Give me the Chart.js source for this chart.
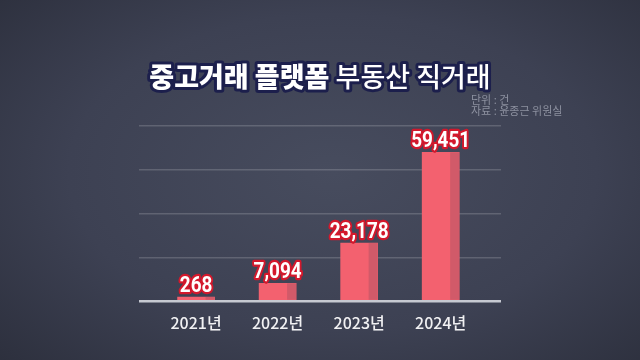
<!DOCTYPE html>
<html lang="ko">
<head>
    <meta charset="UTF-8">
    <title>중고거래 플랫폼 부동산 직거래</title>
    <script src="https://cdn.jsdelivr.net/npm/chart.js"></script>
    <style>
        html, body { margin: 0; padding: 0; }
        body {
            width: 640px; height: 360px; overflow: hidden;
            background: radial-gradient(ellipse 75% 80% at 52% 48%, #474c5e 0%, #3d4153 55%, #2b2e3b 100%);
        }
        canvas { display: block; }
    </style>
</head>
<body>
    <canvas id="chart" width="640" height="360"></canvas>

    <script>
        const years = ['2021년', '2022년', '2023년', '2024년'];
        const counts = [268, 7094, 23178, 59451];
        const gridValues = [0, 17500, 35000, 52500, 70000];

        const titleBold = '중고거래 플랫폼';
        const titleRegular = '부동산 직거래';
        const unitText = '단위 : 건';
        const sourceText = '자료 : 윤종근 위원실';

        const KR = '"Noto Sans CJK KR", "Noto Sans", sans-serif';

        // title, source notes and the value labels over the bars
        const decorations = {
            id: 'decorations',
            afterDatasetsDraw(chart) {
                const ctx = chart.ctx;
                const meta = chart.getDatasetMeta(0);

                // darker right face on each bar
                meta.data.forEach(bar => {
                    const p = bar.getProps(['x', 'y', 'base', 'width'], true);
                    ctx.fillStyle = '#d15a69';
                    ctx.fillRect(p.x + p.width / 2 - 9, p.y, 9, p.base - p.y);
                });

                // value labels
                meta.data.forEach((bar, i) => {
                    const p = bar.getProps(['x', 'y'], true);
                    const txt = counts[i].toLocaleString('en-US');
                    ctx.save();
                    ctx.translate(p.x, p.y - 5);
                    ctx.scale(0.86, 1);
                    ctx.font = 'bold 22px Roboto, "Liberation Sans", sans-serif';
                    ctx.textAlign = 'center';
                    ctx.textBaseline = 'alphabetic';
                    ctx.lineJoin = 'round';
                    ctx.lineWidth = 4.5;
                    ctx.strokeStyle = '#d3182c';
                    ctx.strokeText(txt, 0, 0);
                    ctx.fillStyle = '#ffffff';
                    ctx.fillText(txt, 0, 0);
                    ctx.restore();
                });

                // title
                ctx.save();
                ctx.textBaseline = 'middle';
                ctx.textAlign = 'left';
                ctx.lineJoin = 'round';
                const boldFont = '900 27px ' + KR;
                const regFont = '500 27px ' + KR;
                ctx.font = boldFont;
                const wb = ctx.measureText(titleBold + ' ').width;
                ctx.font = regFont;
                const wr = ctx.measureText(titleRegular).width;
                const x = 320 - (wb + wr) / 2;
                const y = 77;
                [[titleBold, boldFont, 0], [titleRegular, regFont, wb]].forEach(([t, f, dx]) => {
                    ctx.font = f;
                    ctx.lineWidth = 6;
                    ctx.strokeStyle = '#1c1f4c';
                    ctx.strokeText(t, x + dx, y);
                    ctx.fillStyle = '#ffffff';
                    ctx.fillText(t, x + dx, y);
                });

                // unit / source
                ctx.font = '11px ' + KR;
                ctx.fillStyle = '#8d91a0';
                ctx.fillText(unitText, 471, 100);
                ctx.fillText(sourceText, 471, 111);
                ctx.restore();
            }
        };

        new Chart(document.getElementById('chart'), {
            type: 'bar',
            data: {
                datasets: [{
                    data: counts.map((v, i) => ({ x: i, y: v })),
                    backgroundColor: '#f3616f',
                    borderWidth: 0,
                    barThickness: 37,
                    minBarLength: 4
                }]
            },
            options: {
                responsive: false,
                animation: false,
                layout: { padding: { left: 139, right: 139, top: 126, bottom: 0 } },
                plugins: { legend: { display: false }, tooltip: { enabled: false } },
                scales: {
                    x: {
                        type: 'linear',
                        offset: false,
                        min: -0.7,
                        max: 3.74,
                        grid: { display: false },
                        border: { display: false },
                        afterBuildTicks: s => { s.ticks = years.map((_, i) => ({ value: i })); },
                        afterFit: s => { s.height = 59; },
                        ticks: {
                            callback: v => years[v] ?? '',
                            color: '#f1f1f3',
                            font: { family: KR, size: 16, weight: '500' },
                            padding: 4,
                            maxRotation: 0,
                            autoSkip: false
                        }
                    },
                    y: {
                        min: gridValues[0],
                        max: gridValues[gridValues.length - 1],
                        afterBuildTicks: s => { s.ticks = gridValues.map(v => ({ value: v })); },
                        afterFit: s => { s.width = 0; },
                        ticks: { display: false },
                        border: { display: false },
                        grid: {
                            drawTicks: false,
                            color: c => c.tick.value === 0 ? '#c6c9d1' : 'rgba(255,255,255,0.17)',
                            lineWidth: c => c.tick.value === 0 ? 2.5 : 1.5
                        }
                    }
                }
            },
            plugins: [decorations]
        });
    </script>
</body>
</html>
